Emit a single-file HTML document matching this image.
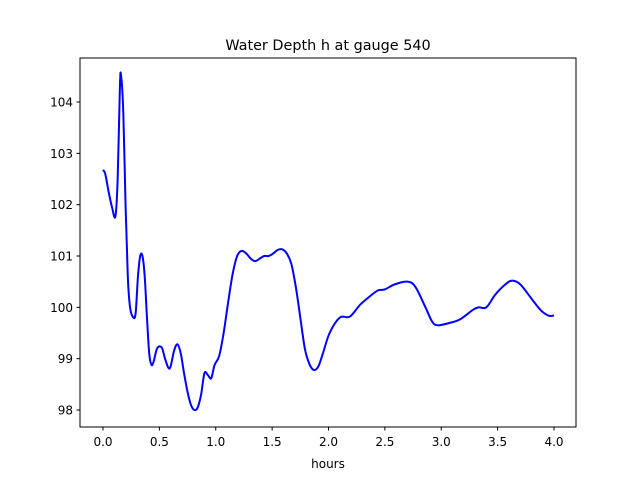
<!DOCTYPE html>
<html><head><meta charset="utf-8"><style>
body{margin:0;background:#fff;}
svg text{font-family:"DejaVu Sans","Liberation Sans",sans-serif;fill:#000;}
</style></head><body>
<svg id="chart" width="640" height="480">
<rect width="640" height="480" fill="#fff"/>
<text x="328" y="50" font-size="14.4" text-anchor="middle">Water Depth h at gauge 540</text>
<g id="ticks"></g>
<path id="line" fill="none" stroke="#0000ff" stroke-width="2" stroke-linejoin="round"/>
<rect x="80" y="58" width="496" height="369" fill="none" stroke="#000" stroke-width="1"/>
<text x="328" y="468" font-size="12" text-anchor="middle">hours</text>
</svg>
<script>
const hours=[0,0.02,0.05,0.08,0.11,0.13,0.15,0.16,0.18,0.2,0.22,0.24,0.27,0.29,0.31,0.33,0.35,0.37,0.39,0.41,0.43,0.45,0.48,0.52,0.55,0.58,0.6,0.63,0.66,0.69,0.72,0.75,0.78,0.81,0.84,0.87,0.9,0.93,0.96,0.99,1.03,1.07,1.11,1.15,1.19,1.23,1.27,1.31,1.35,1.39,1.43,1.47,1.51,1.55,1.59,1.63,1.67,1.71,1.75,1.79,1.83,1.87,1.91,1.95,2.01,2.1,2.19,2.28,2.37,2.44,2.5,2.59,2.7,2.77,2.86,2.92,2.97,3.08,3.17,3.28,3.33,3.4,3.48,3.57,3.63,3.7,3.79,3.88,3.95,4.0];
const depth=[102.68,102.6,102.25,101.95,101.77,102.5,104.3,104.52,103.8,102.0,100.6,100.0,99.8,99.9,100.6,101.0,101.0,100.6,99.8,99.1,98.88,98.95,99.2,99.22,99.0,98.82,98.85,99.15,99.28,99.1,98.7,98.35,98.1,98.0,98.05,98.3,98.72,98.68,98.62,98.88,99.05,99.5,100.1,100.65,101.0,101.1,101.05,100.95,100.9,100.95,101.0,101.0,101.05,101.12,101.13,101.05,100.85,100.4,99.8,99.2,98.9,98.78,98.85,99.1,99.5,99.8,99.82,100.05,100.22,100.33,100.35,100.45,100.5,100.4,100.0,99.72,99.65,99.7,99.77,99.95,100.0,100.0,100.25,100.45,100.52,100.45,100.2,99.95,99.84,99.84];
const xTicks=[0,0.5,1,1.5,2,2.5,3,3.5,4];
const xTickLabels=["0.0","0.5","1.0","1.5","2.0","2.5","3.0","3.5","4.0"];
const yTicks=[98,99,100,101,102,103,104];
const yTickLabels=["98","99","100","101","102","103","104"];
const sx=v=>103+v*112.75;
const sy=v=>410-(v-98)*51.33;
const NS="http://www.w3.org/2000/svg";
const g=document.getElementById('ticks');
function mk(t,a){const e=document.createElementNS(NS,t);for(const k in a)e.setAttribute(k,a[k]);g.appendChild(e);return e;}
xTicks.forEach((v,i)=>{
 const l=mk('line',{x1:sx(v),x2:sx(v),y1:427,y2:430.5,stroke:'#000'});
 
 
 const t=mk('text',{x:sx(v),y:446,'font-size':12,'text-anchor':'middle'});t.textContent=xTickLabels[i];
 
 
});
yTicks.forEach((v,i)=>{
 const l=mk('line',{x1:76.5,x2:80,y1:sy(v),y2:sy(v),stroke:'#000'});
 
 
 const t=mk('text',{x:73,y:sy(v)+4.5,'font-size':12,'text-anchor':'end'});t.textContent=yTickLabels[i];
 
 
});
const pts=hours.map((h,i)=>[sx(h),sy(depth[i])]);
let d='M'+pts[0][0]+','+pts[0][1];
for(let i=0;i<pts.length-1;i++){
 const p0=pts[Math.max(0,i-1)],p1=pts[i],p2=pts[i+1],p3=pts[Math.min(pts.length-1,i+2)];
 const c1=[p1[0]+(p2[0]-p0[0])/6,p1[1]+(p2[1]-p0[1])/6];
 const c2=[p2[0]-(p3[0]-p1[0])/6,p2[1]-(p3[1]-p1[1])/6];
 d+=`C${c1[0]},${c1[1]} ${c2[0]},${c2[1]} ${p2[0]},${p2[1]}`;
}
document.getElementById('line').setAttribute('d',d);
</script>
</body></html>
